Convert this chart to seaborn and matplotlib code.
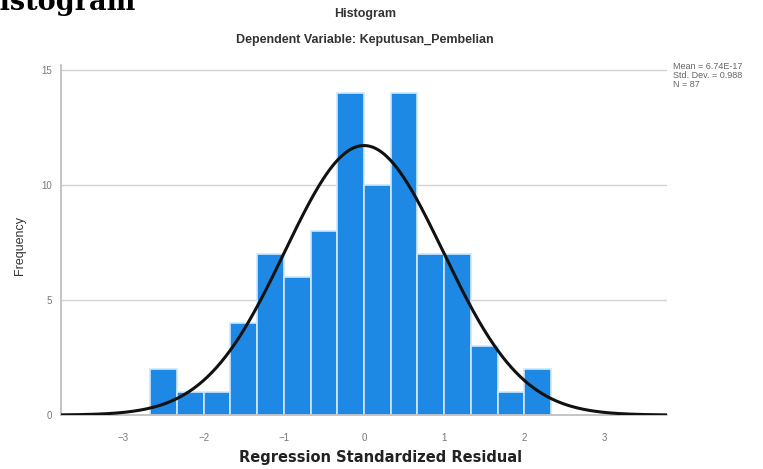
import numpy as np
import pandas as pd
import matplotlib.pyplot as plt
import seaborn as sns

# residual histogram (SPSS style)
counts = [2, 1, 1, 4, 7, 6, 8, 14, 10, 14, 7, 7, 3, 1, 2]
bin_start = -8 / 3
bin_width = 1 / 3
mean_res = 6.74e-17
sd_res = 0.988
n_obs = 87

x_ticks = [-3, -2, -1, 0, 1, 2, 3]
y_ticks = [0, 5, 10, 15]

edges = bin_start + bin_width * np.arange(len(counts) + 1)
df = pd.DataFrame({'center': (edges[:-1] + edges[1:]) / 2, 'count': counts})

sns.set_style("white")
plt.rcParams['font.family'] = ['Liberation Sans', 'DejaVu Sans']

fig = plt.figure(figsize=(7.63, 4.69), dpi=100)
ax = fig.add_axes([0.08, 0.115, 0.794, 0.746])

for y in y_ticks[1:]:
    ax.axhline(y, color='#d4d4d4', lw=1, zorder=0)

sns.histplot(data=df, x='center', weights='count', bins=list(edges), ax=ax,
             color='#1e88e5', alpha=1, edgecolor='#cfe8ff', linewidth=1.2, zorder=2)

# fitted normal curve
xs = np.linspace(-3.8, 3.8, 400)
ys = n_obs * bin_width / (sd_res * np.sqrt(2 * np.pi)) * np.exp(-0.5 * ((xs - mean_res) / sd_res) ** 2)
sns.lineplot(x=xs, y=ys, ax=ax, color='#111111', lw=2.2, zorder=3)

ax.set_xlim(-3.78, 3.78)
ax.set_ylim(0, 15.2)
ax.set_xticks(x_ticks)
ax.set_yticks(y_ticks)
ax.tick_params(axis='both', labelsize=7, colors='#777777', length=3)
ax.tick_params(axis='x', length=0, pad=13)
for s in ['top', 'right']:
    ax.spines[s].set_visible(False)
for s in ['left', 'bottom']:
    ax.spines[s].set_color('#bbbbbb')
    ax.spines[s].set_linewidth(1.2)

ax.set_ylabel('Frequency', fontsize=9, color='#333333')
ax.yaxis.set_label_coords(-0.058, 0.486)
ax.set_xlabel('Regression Standardized Residual', fontsize=10.5, color='#222222',
              fontweight='bold', family=['DejaVu Sans'])
ax.xaxis.set_label_coords(0.528, -0.1)

fig.text(0.478, 0.97, 'Histogram', ha='center', va='center', fontsize=9,
         color='#333333', fontweight='bold')
fig.text(0.478, 0.915, 'Dependent Variable: Keputusan_Pembelian', ha='center',
         va='center', fontsize=9, color='#333333', fontweight='bold')

fig.text(0.882, 0.868, 'Mean = 6.74E-17\nStd. Dev. = 0.988\nN = 87', ha='left',
         va='top', fontsize=6.5, color='#666666', linespacing=1.0)

# cut-off heading from the document page
fig.text(-0.0334, 0.9787, 'Histogram', ha='left', va='baseline', fontsize=19.5,
         fontweight='bold', family=['DejaVu Serif'], color='black')

fig.savefig('out.png', dpi=100)
